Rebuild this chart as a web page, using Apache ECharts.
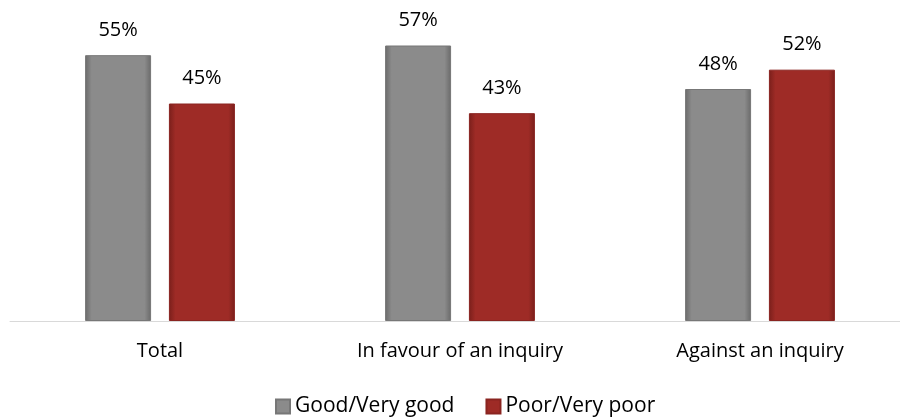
<!DOCTYPE html>
<html><head><meta charset="utf-8">
<script src="https://cdn.jsdelivr.net/npm/echarts@6/dist/echarts.min.js"></script>
<style>html,body{margin:0;padding:0;background:#fff;overflow:hidden;width:900px;height:419px}#c{width:910px;height:419px}</style>
</head><body><div id="c"></div>
<script>
var categories = ['Total', 'In favour of an inquiry', 'Against an inquiry'];
var seriesNames = ['Good/Very good', 'Poor/Very poor'];
var goodValues = [55, 57, 48];
var poorValues = [45, 43, 52];

function bevel(mid, edge) {
  return new echarts.graphic.LinearGradient(0, 0, 1, 0, [
    {offset: 0, color: edge}, {offset: 0.1, color: mid}, {offset: 0.9, color: mid}, {offset: 1, color: edge}
  ]);
}
var FONT = 'Open Sans';
var chart = echarts.init(document.getElementById('c'), null, {renderer: 'canvas'});
chart.setOption({
  animation: false,
  grid: {left: 10, right: 0, top: 31, bottom: 98},
  legend: {
    data: seriesNames, top: 391, left: 270, itemWidth: 14, itemHeight: 14, itemGap: 31,
    icon: 'rect',
    textStyle: {fontFamily: FONT, fontSize: 21, color: '#000'}
  },
  xAxis: {
    type: 'category', data: categories,
    axisLine: {lineStyle: {color: '#d9d9d9', width: 1}},
    axisTick: {show: false},
    axisLabel: {fontFamily: FONT, fontSize: 20, color: '#000', margin: 20}
  },
  yAxis: {type: 'value', min: 0, max: 60, show: false, splitLine: {show: false}},
  series: [
    {
      name: seriesNames[0], type: 'bar', data: goodValues, barWidth: 66, barGap: '27%',
      itemStyle: {color: bevel('#8b8b8b', '#6a6a6a'), borderColor: '#777', borderWidth: 1},
      label: {show: true, position: 'top', distance: 15, formatter: '{c}%', fontFamily: FONT, fontSize: 20, color: '#000'}
    },
    {
      name: seriesNames[1], type: 'bar', data: poorValues, barWidth: 66,
      itemStyle: {color: bevel('#9e2b26', '#7a1f1b'), borderColor: '#8a2420', borderWidth: 1},
      label: {show: true, position: 'top', distance: 15, formatter: '{c}%', fontFamily: FONT, fontSize: 20, color: '#000'}
    }
  ]
});
</script></body></html>
